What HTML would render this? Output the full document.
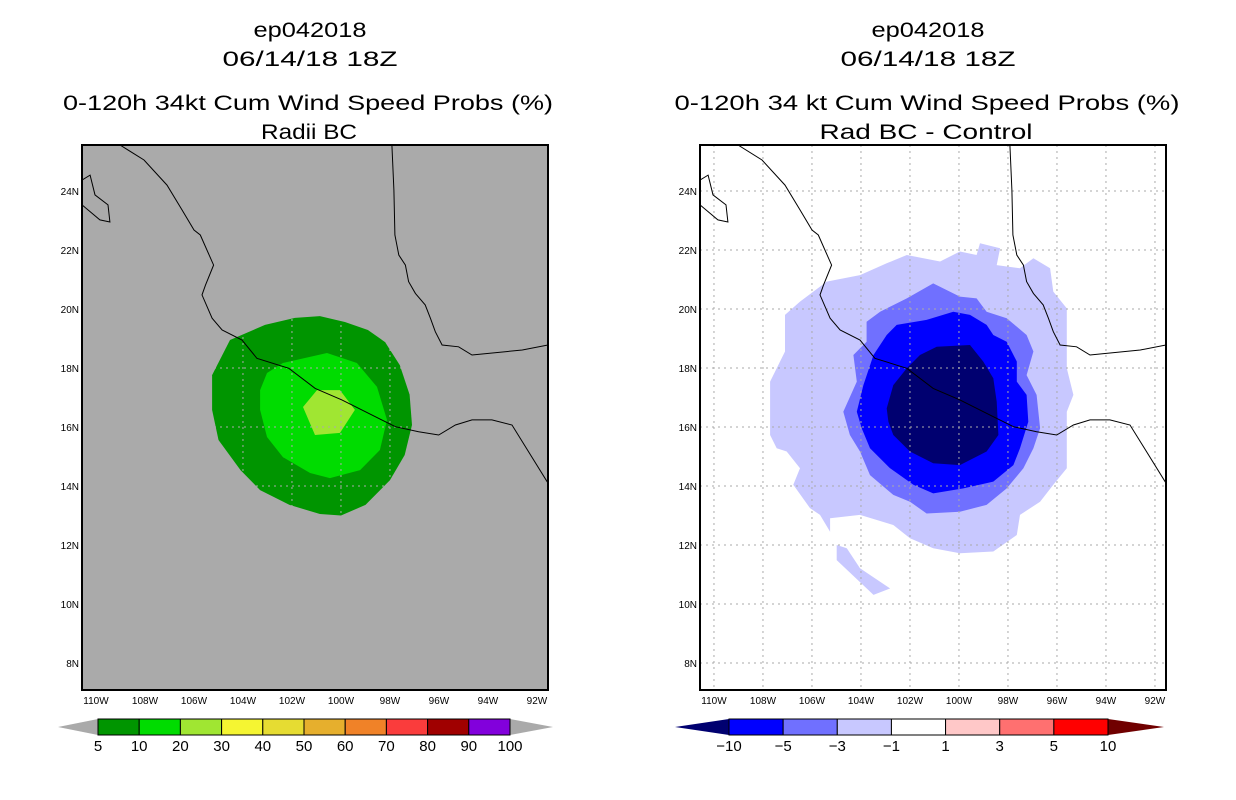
<!DOCTYPE html>
<html><head><meta charset="utf-8"><style>
body{margin:0;background:#fff;width:1236px;height:800px;overflow:hidden}
svg{display:block;font-family:"Liberation Sans",sans-serif}
</style></head><body>
<svg id="s" width="1236" height="800">
<g font-size="21" text-anchor="middle" fill="#000">
<text x="310" y="37" textLength="113" lengthAdjust="spacingAndGlyphs">ep042018</text>
<text x="310" y="66" textLength="175" lengthAdjust="spacingAndGlyphs">06/14/18 18Z</text>
<text x="308" y="110" textLength="490" lengthAdjust="spacingAndGlyphs">0-120h 34kt Cum Wind Speed Probs (%)</text>
<text x="309" y="139" textLength="96" lengthAdjust="spacingAndGlyphs">Radii BC</text></g>
<g font-size="21" text-anchor="middle" fill="#000">
<text x="928" y="37" textLength="113" lengthAdjust="spacingAndGlyphs">ep042018</text>
<text x="928" y="66" textLength="175" lengthAdjust="spacingAndGlyphs">06/14/18 18Z</text>
<text x="927" y="110" textLength="505" lengthAdjust="spacingAndGlyphs">0-120h 34 kt Cum Wind Speed Probs (%)</text>
<text x="926" y="139" textLength="213" lengthAdjust="spacingAndGlyphs">Rad BC - Control</text></g>
<g id="L"></g>
<g id="R"></g>
<g id="CB"></g>
</svg>
<script>
const latTicks=[24,22,20,18,16,14,12,10,8];
const lonTicks=[110,108,106,104,102,100,98,96,94,92];
// contour polygons in (lonW, latN)
const leftC5=[[105.26,17.76],[104.53,18.95],[103.1,19.46],[101.88,19.7],[100.86,19.76],[99.84,19.56],[98.9,19.29],[98.2,18.88],[97.6,18.1],[97.2,17.1],[97.1,16.07],[97.4,15.05],[98.0,14.2],[99.0,13.36],[100.0,13.0],[100.86,13.05],[102.1,13.36],[103.3,13.86],[104.1,14.54],[105.0,15.56],[105.26,16.58]];
const leftC10=[[103.3,17.25],[103.02,17.83],[102.37,18.17],[100.57,18.51],[99.35,18.17],[98.53,17.36],[98.12,16.24],[98.41,15.22],[99.22,14.54],[100.45,14.27],[101.26,14.44],[102.37,14.98],[103.02,15.66],[103.3,16.58]];
const leftC20=[[101.55,16.68],[100.98,17.25],[100.04,17.25],[99.43,16.58],[100.04,15.8],[101.06,15.73]];
const rightC1=[[107.71,15.73],[107.71,17.54],[107.1,18.56],[107.1,19.8],[106.49,20.25],[105.4,20.93],[104.04,21.15],[102.95,21.55],[102.13,21.83],[100.77,21.61],[99.96,21.95],[99.28,21.83],[99.14,22.23],[98.32,22.06],[98.46,21.49],[97.51,21.38],[96.96,21.72],[96.28,21.38],[96.15,20.59],[95.6,20.02],[95.6,17.99],[95.33,17.09],[95.6,16.52],[95.6,14.6],[96.15,14.04],[96.69,13.47],[97.51,13.02],[97.64,12.34],[98.6,11.78],[99.96,11.72],[101.05,11.89],[102.0,12.23],[102.68,12.68],[104.04,13.02],[105.26,12.91],[105.26,12.45],[105.67,13.02],[106.08,13.25],[106.76,14.04],[106.49,14.6],[107.03,15.17],[107.44,15.28]];
const rightC1b=[[104.99,12.0],[104.58,11.89],[104.04,11.21],[102.81,10.53],[103.49,10.31],[104.99,11.49]];
const rightC3=[[104.72,16.52],[104.17,17.54],[104.31,18.44],[103.77,18.89],[103.77,19.57],[103.22,19.91],[102.13,20.36],[101.05,20.87],[99.96,20.42],[99.28,20.36],[98.87,19.91],[98.05,19.69],[97.24,19.12],[96.96,18.56],[97.24,17.76],[96.83,17.09],[96.69,15.96],[96.96,15.28],[97.37,14.6],[98.05,13.92],[98.87,13.36],[99.96,13.13],[101.32,13.07],[102.0,13.47],[102.68,13.7],[103.63,14.37],[104.04,15.17],[104.45,15.73]];
const rightC5=[[104.17,16.52],[103.9,17.42],[103.49,18.44],[102.95,19.12],[102.54,19.46],[101.32,19.63],[100.23,19.91],[99.55,19.8],[98.87,19.46],[98.6,19.12],[98.05,18.89],[97.64,18.22],[97.64,17.54],[97.24,17.09],[97.17,16.18],[97.51,15.28],[97.78,14.71],[98.6,14.15],[99.82,13.92],[101.05,13.75],[101.86,14.04],[102.81,14.6],[103.63,15.28],[103.97,15.96]];
const rightC10=[[102.95,16.63],[102.68,17.42],[102.13,17.99],[101.59,18.44],[100.91,18.72],[99.55,18.78],[99.01,18.22],[98.6,17.65],[98.46,16.86],[98.39,15.73],[98.87,15.17],[99.96,14.71],[101.05,14.77],[102.0,15.17],[102.68,15.73],[102.88,16.18]];
const coastW=[[109.02,25.56],[108.04,25.05],[107.1,24.2],[106.49,23.36],[106.0,22.68],[105.74,22.51],[105.2,21.49],[105.53,20.81],[105.67,20.48],[105.26,19.69],[104.85,19.29],[104.04,18.95],[103.43,18.33],[102.13,17.99],[101.05,17.31],[99.96,16.92],[98.6,16.35],[97.78,16.01],[96.83,15.84],[96.01,15.73],[95.33,16.07],[94.65,16.24],[93.84,16.24],[93.02,16.07],[91.55,14.1]];
const coastE=[[97.92,25.56],[97.84,24.03],[97.8,22.51],[97.64,21.83],[97.37,21.49],[97.24,20.93],[96.96,20.53],[96.56,20.14],[96.35,19.69],[96.15,19.23],[95.87,18.78],[95.2,18.72],[94.65,18.44],[92.6,18.61],[91.55,18.78]];
const baja=[[110.57,24.37],[110.24,24.54],[110.04,23.87],[109.51,23.53],[109.43,22.95],[109.84,23.02],[110.57,23.53]];
const barL=["#009500","#00dc00","#a0e632","#f5f532","#e6dc32","#e6af2d","#f08228","#fa3c3c","#a00000","#8200dc"];
const barLlab=["5","10","20","30","40","50","60","70","80","90","100"];
const barR=["#0000ff","#7070ff","#c8c8ff","#ffffff","#ffc8c8","#ff7070","#ff0000"];
const barRlab=["-10","-5","-3","-1","1","3","5","10"];
const NS="http://www.w3.org/2000/svg";
function mk(p,t,a){const e=document.createElementNS(NS,t);for(const k in a)e.setAttribute(k,a[k]);p.appendChild(e);return e;}
function X(off,lon){return off+82+(110.57-lon)*24.5;}
function Y(lat){return 145+(25.56-lat)*29.5;}
function pts(off,arr){return arr.map(p=>X(off,p[0]).toFixed(1)+","+Y(p[1]).toFixed(1)).join(" ");}
function panel(g,off,bg,fills){
  const cp="clip"+off;
  const d=mk(g,"defs",{});const c=mk(d,"clipPath",{id:cp});mk(c,"rect",{x:off+82,y:145,width:466,height:545});
  const bgr=mk(g,"rect",{x:off+82,y:145,width:466,height:545,fill:bg});
  
  
  const cg=mk(g,"g",{"clip-path":"url(#"+cp+")"});
  fills.forEach(f=>{const p=mk(cg,"polygon",{points:pts(off,f[0]),fill:f[1]});
    
    });
  latTicks.forEach(l=>{mk(cg,"line",{x1:off+82,x2:off+548,y1:Y(l),y2:Y(l),stroke:"#aaa","stroke-dasharray":"2,4"});
    const t=mk(g,"text",{x:off+79,y:Y(l)+4,"font-size":"10","text-anchor":"end"});t.textContent=l+"N";
    
    });
  lonTicks.forEach(l=>{mk(cg,"line",{x1:X(off,l),x2:X(off,l),y1:145,y2:690,stroke:"#aaa","stroke-dasharray":"2,4"});
    const t=mk(g,"text",{x:X(off,l),y:704,"font-size":"10","text-anchor":"middle"});t.textContent=l+"W";
    
    });
  [coastW,coastE].forEach(cs=>{const pl=mk(cg,"polyline",{points:pts(off,cs),fill:"none",stroke:"#000","stroke-width":"1"});
    
    });
  const b=mk(cg,"polyline",{points:pts(off,baja),fill:"none",stroke:"#000"});
  
  
  mk(g,"rect",{x:off+82,y:145,width:466,height:545,fill:"none",stroke:"#000","stroke-width":"2"});
}
panel(document.getElementById("L"),0,"#aaaaaa",[[leftC5,"#009500","contour-5"],[leftC10,"#00dc00","contour-10"],[leftC20,"#a0e632","contour-20"]]);
panel(document.getElementById("R"),618,"#ffffff",[[rightC1,"#c8c8ff","contour-minus1"],[rightC1b,"#c8c8ff","contour-minus1-blob"],[rightC3,"#7070ff","contour-minus3"],[rightC5,"#0000ff","contour-minus5"],[rightC10,"#000070","contour-minus10"]]);
const cb=document.getElementById("CB");
const lt=mk(cb,"polygon",{points:"58,727 98,719 98,735",fill:"#aaa"});


const rt=mk(cb,"polygon",{points:"553,727 510,719 510,735",fill:"#aaa"});


const wL=(510-98)/barL.length;
barL.forEach((c,i)=>{const r=mk(cb,"rect",{x:98+i*wL,y:719,width:wL,height:16,fill:c,stroke:"#000"});
  
  });
barLlab.forEach((s,i)=>{const t=mk(cb,"text",{x:98+i*wL,y:751,"font-size":"15","text-anchor":"middle"});t.textContent=s;
  
  });
const l2=mk(cb,"polygon",{points:"675,727 729,719 729,735",fill:"#000070"});


const r2=mk(cb,"polygon",{points:"1164,727 1108,719 1108,735",fill:"#700000"});


const wR=(1108-729)/barR.length;
barR.forEach((c,i)=>{const r=mk(cb,"rect",{x:729+i*wR,y:719,width:wR,height:16,fill:c,stroke:"#000"});
  
  });
barRlab.forEach((s,i)=>{const t=mk(cb,"text",{x:729+i*wR,y:751,"font-size":"15","text-anchor":"middle"});t.textContent=s.replace("-","\u2212");
  
  });
</script>
</body></html>
